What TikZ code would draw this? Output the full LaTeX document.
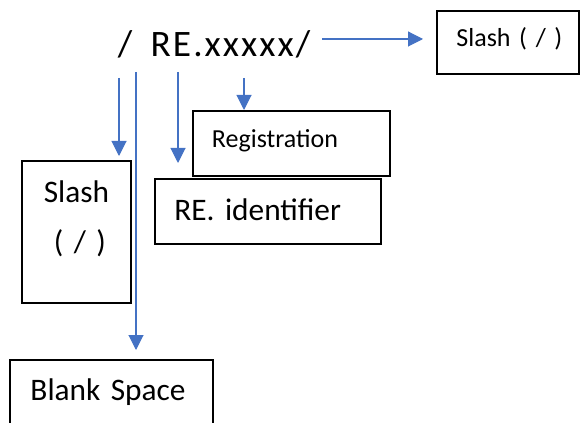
\documentclass[tikz,border=0pt]{standalone}
\usepackage{fontspec}
\setmainfont{Carlito}
\newfontfamily\titlefont[LetterSpace=5.5]{Carlito}
\usetikzlibrary{arrows.meta}
\definecolor{arrblue}{HTML}{4472C4}
\frenchspacing
\begin{document}
\begin{tikzpicture}[x=0.75pt,y=-0.75pt,
  box/.style={draw=black, line width=1.4pt, anchor=north west, inner ysep=0pt, align=left},
  arr/.style={draw=arrblue, line width=0.8pt, -{Triangle[width=11.25pt,length=11.25pt]}}]
\path[use as bounding box, clip] (0,0) rectangle (580,423);

\node[anchor=base west, inner sep=0pt, font=\titlefont\fontsize{28}{33}\selectfont] (title) at (117.5,57) {/\hspace{6pt} RE.xxxxx/};

\node[box, font=\fontsize{19.5}{23}\selectfont, inner xsep=14.6pt, text width=77.25pt, text height=26.6pt, text depth=20.6pt] (rslash) at (436,10) {\mbox{Slash ( / )}};
\node[box, font=\fontsize{19.5}{23}\selectfont, inner xsep=14.25pt, text width=119.25pt, text height=27.75pt, text depth=21pt] (reg) at (192,110) {Registration};
\node[box, font=\fontsize{23.5}{28}\selectfont, inner xsep=14.6pt, text width=140.25pt, text height=31.5pt, text depth=17.25pt] (reid) at (154,178) {\mbox{RE. identifier}};
\node[box, align=center, font=\fontsize{23.5}{37.5}\selectfont, inner xsep=3.75pt, text width=74.25pt, text height=31.5pt, text depth=75pt] (lslash) at (21,160) {Slash\\\hspace*{5.25pt}( / )};
\node[box, font=\fontsize{23.5}{28}\selectfont, inner xsep=15.4pt, text width=121.5pt, text height=30.75pt, text depth=30pt] (blank) at (9,359) {\mbox{Blank Space}};

\coordinate (s1) at (322,39);
\coordinate (s2) at (119,78);
\coordinate (s3) at (136,72);
\coordinate (s4) at (178,72);
\coordinate (s5) at (244,78);

\draw[arr, shorten >=9.75pt] (s1) -- (s1 -| rslash.west);
\draw[arr, shorten >=3pt] (s2) -- (s2 |- lslash.north);
\draw[arr, shorten >=6.75pt] (s3) -- (s3 |- blank.north);
\draw[arr, shorten >=11.25pt] (s4) -- (s4 |- reid.north);
\draw[arr] (s5) -- (s5 |- reg.north);
\end{tikzpicture}
\end{document}
